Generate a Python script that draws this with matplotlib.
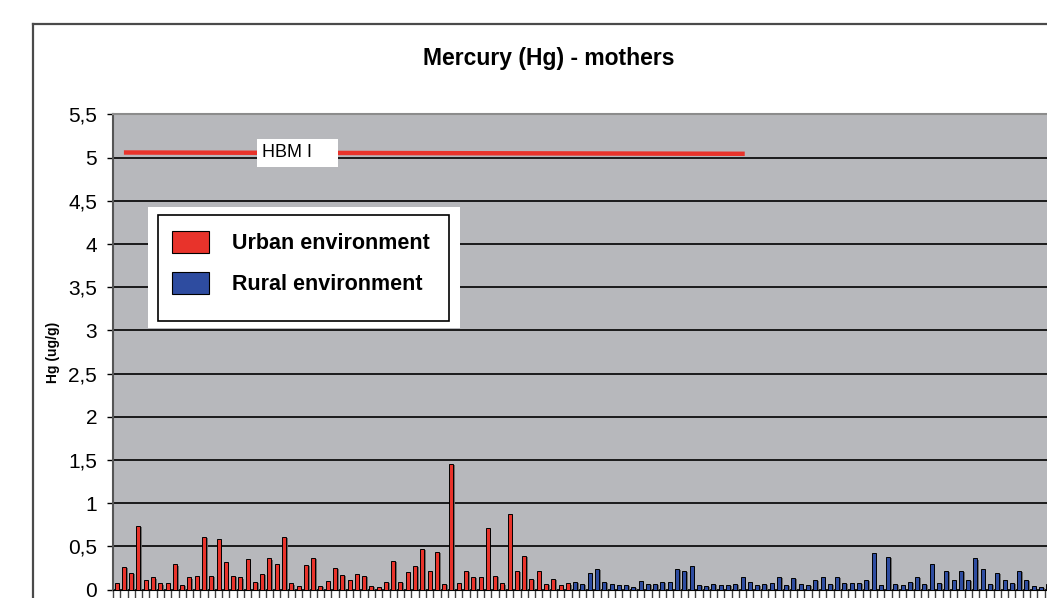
import matplotlib
matplotlib.use("Agg")
import matplotlib.pyplot as plt
import matplotlib.patheffects as pe
from matplotlib.patches import Patch, Rectangle
from matplotlib.lines import Line2D
import numpy as np

plt.rcParams['font.family'] = ['Liberation Sans', 'DejaVu Sans']

# DATA (Hg in ug/g, one bar per mother)
urban = [0.08, 0.26, 0.19, 0.74, 0.11, 0.14, 0.07, 0.08, 0.29, 0.05,
         0.14, 0.16, 0.61, 0.16, 0.59, 0.32, 0.16, 0.14, 0.35, 0.09,
         0.18, 0.36, 0.29, 0.61, 0.07, 0.04, 0.28, 0.37, 0.04, 0.10,
         0.25, 0.17, 0.11, 0.18, 0.16, 0.04, 0.03, 0.09, 0.33, 0.09,
         0.20, 0.27, 0.47, 0.21, 0.44, 0.06, 1.45, 0.07, 0.22, 0.15,
         0.15, 0.71, 0.16, 0.07, 0.875, 0.22, 0.39, 0.125, 0.22, 0.06,
         0.125, 0.05, 0.07]
rural = [0.09, 0.06, 0.19, 0.24, 0.09, 0.06, 0.05, 0.05, 0.03, 0.10,
         0.06, 0.06, 0.09, 0.09, 0.24, 0.21, 0.27, 0.05, 0.04, 0.06,
         0.05, 0.05, 0.06, 0.15, 0.09, 0.05, 0.06, 0.075, 0.15, 0.05,
         0.13, 0.06, 0.05, 0.11, 0.15, 0.06, 0.15, 0.075, 0.075, 0.075,
         0.11, 0.42, 0.05, 0.38, 0.06, 0.05, 0.09, 0.15, 0.06, 0.30,
         0.075, 0.22, 0.11, 0.21, 0.11, 0.36, 0.24, 0.06, 0.19, 0.11,
         0.075, 0.22, 0.11, 0.04, 0.03, 0.06]
hbm_x = [2, 87.3]
hbm_y = [5.06, 5.045]
yticks = [0, 0.5, 1, 1.5, 2, 2.5, 3, 3.5, 4, 4.5, 5, 5.5]
ytick_labels = [str(v).replace('.', ',') for v in yticks]

RED = '#e8332b'
BLUE = '#2e4ca0'
PLOT_BG = '#b7b8bc'

W, H = 1047, 598
fig = plt.figure(figsize=(W / 100, H / 100), dpi=100)
fig.patch.set_facecolor('white')

# plot area runs off the right edge like in the source image
ax = fig.add_axes([113 / W, 8.5 / H, (1060 - 113) / W, 475 / H])
ax.set_facecolor(PLOT_BG)

x_urban = np.arange(1, len(urban) + 1)
x_rural = np.arange(len(urban) + 1, len(urban) + len(rural) + 1)
shadow = [pe.SimplePatchShadow(offset=(1.2, -0.8), shadow_rgbFace='#666666', alpha=0.9), pe.Normal()]
ax.bar(x_urban, urban, width=0.55, color=RED, edgecolor='black', linewidth=0.7,
       zorder=3, path_effects=shadow)
ax.bar(x_rural, rural, width=0.55, color=BLUE, edgecolor='black', linewidth=0.7,
       zorder=3, path_effects=shadow)

# HBM I threshold line
ax.plot(hbm_x, hbm_y, color=RED, linewidth=3.2, solid_capstyle='butt', zorder=4)
ax.text(21.0, 5.055, 'HBM I    ', fontsize=13, va='center', ha='left', zorder=5,
        bbox=dict(boxstyle='square,pad=0.3', facecolor='white', edgecolor='none'))

ax.set_xlim(0.5, 0.5 + 947 / 7.278)
ax.set_ylim(0, 5.5)
ax.set_yticks(yticks)
ax.set_yticklabels(ytick_labels, fontsize=15)
ax.set_xticks(np.arange(0.5, 0.5 + 947 / 7.278, 1.0))
ax.set_xticklabels([])
ax.tick_params(axis='y', direction='out', length=4.5, width=1, color='black', pad=7)
ax.tick_params(axis='x', direction='out', length=8, width=1, color='#444444')
ax.grid(axis='y', color='black', linewidth=1.2, zorder=1)
ax.set_axisbelow(True)
ax.spines['top'].set_color('#8c8c8c')
ax.spines['top'].set_linewidth(1.5)
ax.spines['left'].set_color('#555555')
ax.spines['left'].set_linewidth(1.5)
ax.spines['bottom'].set_color('black')
ax.spines['right'].set_visible(False)

ax.set_ylabel('Hg (ug/g)', fontsize=10, fontweight='bold')
ax.yaxis.set_label_coords(-53 / 947, 0.5)

fig.text(549 / W, 1 - 58 / H, 'Mercury (Hg) - mothers', fontsize=16.5,
         fontweight='bold', ha='center', va='center')

# outer chart border (top and left edges visible)
fig.add_artist(Line2D([33 / W, 1.0], [1 - 24 / H, 1 - 24 / H], color='#4a4a4a', linewidth=1.6))
fig.add_artist(Line2D([33 / W, 33 / W], [1 - 24 / H, 0], color='#4a4a4a', linewidth=1.6))

# white area and black frame of the legend
ax.add_patch(Rectangle((148 / W, 1 - 328 / H), 312 / W, 121 / H, transform=fig.transFigure,
                       facecolor='white', edgecolor='none', zorder=4.5, clip_on=False))
ax.add_patch(Rectangle((158 / W, 1 - 321 / H), 291 / W, 106 / H, transform=fig.transFigure,
                       facecolor='white', edgecolor='black', linewidth=1.2, zorder=4.6,
                       clip_on=False))

handles = [Patch(facecolor=RED, edgecolor='black', linewidth=0.8),
           Patch(facecolor=BLUE, edgecolor='black', linewidth=0.8)]
leg = ax.legend(handles, ['Urban environment', 'Rural environment'],
                loc='upper left', bbox_to_anchor=(172 / W, 1 - 231 / H),
                bbox_transform=fig.transFigure, borderaxespad=0, borderpad=0,
                prop={'size': 15.5, 'weight': 'bold'}, frameon=False,
                handlelength=1.72, handleheight=1.2,
                handletextpad=1.07, labelspacing=0.8)
leg.set_zorder(6)

fig.savefig('out.png', dpi=100)
